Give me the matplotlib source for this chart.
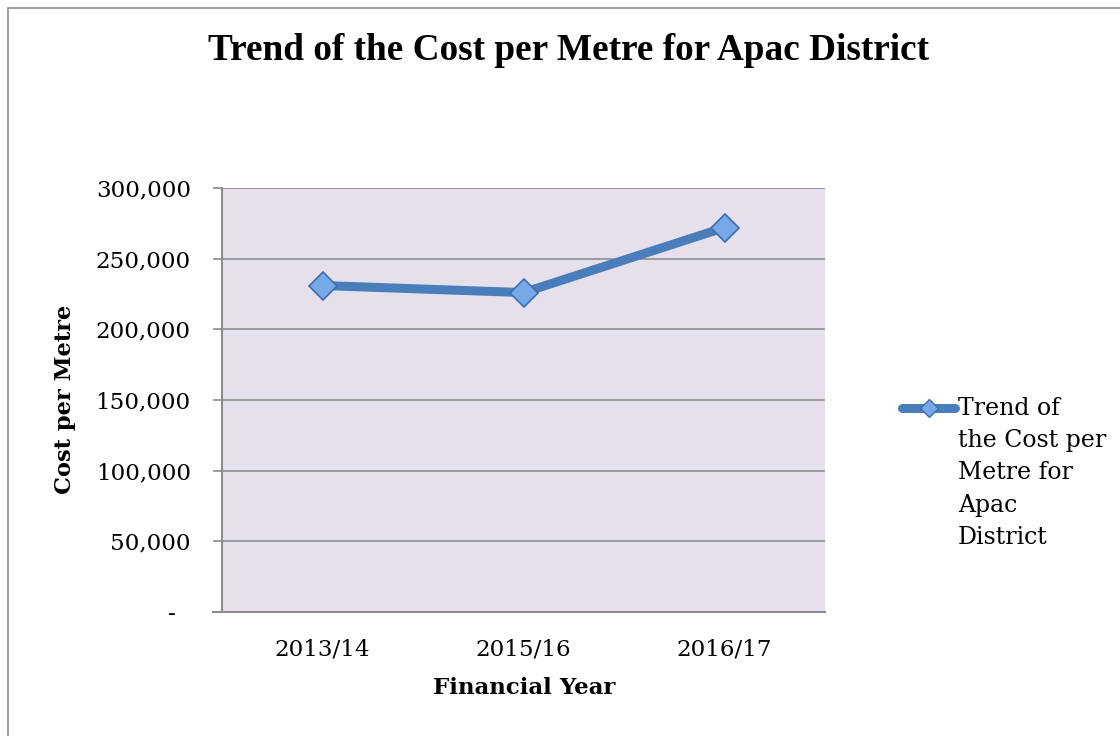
import matplotlib
matplotlib.use("Agg")
import matplotlib.pyplot as plt
from matplotlib.lines import Line2D
from matplotlib.patches import Rectangle
from matplotlib.ticker import FuncFormatter

# Cost per metre by financial year (Apac District)
years = ["2013/14", "2015/16", "2016/17"]
cost_per_metre = [231000, 226000, 272000]
y_ticks = [0, 50000, 100000, 150000, 200000, 250000, 300000]

title = "Trend of the Cost per Metre for Apac District"
series_label = "Trend of\nthe Cost per\nMetre for\nApac\nDistrict"

W, H = 1120, 736
fig = plt.figure(figsize=(W / 100, H / 100), dpi=100)
fig.patch.set_facecolor("white")

serif = ["DejaVu Serif"]
tick_size = 16.6
line_color = "#4A7EBB"
marker_face = "#78A8E8"
marker_edge = "#3F6EAE"
grid_color = "#8C8C8C"

def px(x, y):
    return x / W, 1 - y / H

# chart frame (top and left edges visible)
fig.add_artist(Rectangle(px(8, 760), (1140 - 8) / W, (760 - 8) / H,
                         transform=fig.transFigure, fill=False,
                         edgecolor="#8F8F8F", linewidth=1.2))

left, bottom = px(222, 612)
right, top = px(825, 188)
ax = fig.add_axes([left, bottom, right - left, top - bottom])
ax.set_facecolor("#E6E0EC")

x = list(range(len(years)))
ax.plot(x, cost_per_metre, color=line_color, linewidth=6.5,
        solid_capstyle="round", zorder=3)
ax.plot(x, cost_per_metre, linestyle="none", marker="D", markersize=14.5,
        markerfacecolor=marker_face, markeredgecolor=marker_edge,
        markeredgewidth=1.2, zorder=4)

ax.set_xlim(-0.5, len(years) - 0.5)
ax.set_ylim(0, 300000)
ax.set_xticks(x)
ax.set_xticklabels(years, fontfamily=serif, fontsize=tick_size)
ax.set_yticks(y_ticks)
ax.yaxis.set_major_formatter(
    FuncFormatter(lambda v, _: "-  " if v == 0 else f"{int(v):,}"))
for lab in ax.get_yticklabels():
    lab.set_fontfamily(serif)
    lab.set_fontsize(tick_size)

ax.tick_params(axis="y", length=6.5, width=1.2, color=grid_color, pad=16)
ax.tick_params(axis="x", length=0, pad=19)
ax.grid(axis="y", color=grid_color, linewidth=1.2)
ax.set_axisbelow(True)
for side in ("top", "right"):
    ax.spines[side].set_visible(False)
for side in ("left", "bottom"):
    ax.spines[side].set_color(grid_color)
    ax.spines[side].set_linewidth(1.5)
ax.spines["bottom"].set_bounds(-0.5 - 9 / 201, len(years) - 0.5)

fig.text(*px(568, 51), title, ha="center", va="center",
         fontfamily=["Liberation Serif"], fontweight="bold", fontsize=26.8)
fig.text(*px(524, 688), "Financial Year", ha="center", va="center",
         fontfamily=serif, fontweight="bold", fontsize=16.5)
fig.text(*px(65, 399), "Cost per Metre", ha="center", va="center",
         rotation=90, fontfamily=serif, fontweight="bold", fontsize=16.2)

# legend entry
lx0, ly = px(902, 408)
lx1, _ = px(955, 408)
fig.add_artist(Line2D([lx0, lx1], [ly, ly], transform=fig.transFigure,
                      color=line_color, linewidth=6.5, solid_capstyle="round"))
fig.add_artist(Line2D([(lx0 + lx1) / 2], [ly], transform=fig.transFigure,
                      marker="D", markersize=9, markerfacecolor=marker_face,
                      markeredgecolor=marker_edge, markeredgewidth=1.0))
fig.text(*px(958, 397), series_label, ha="left", va="top",
         fontfamily=serif, fontsize=17, linespacing=1.51)

fig.savefig("out.png", dpi=100)
